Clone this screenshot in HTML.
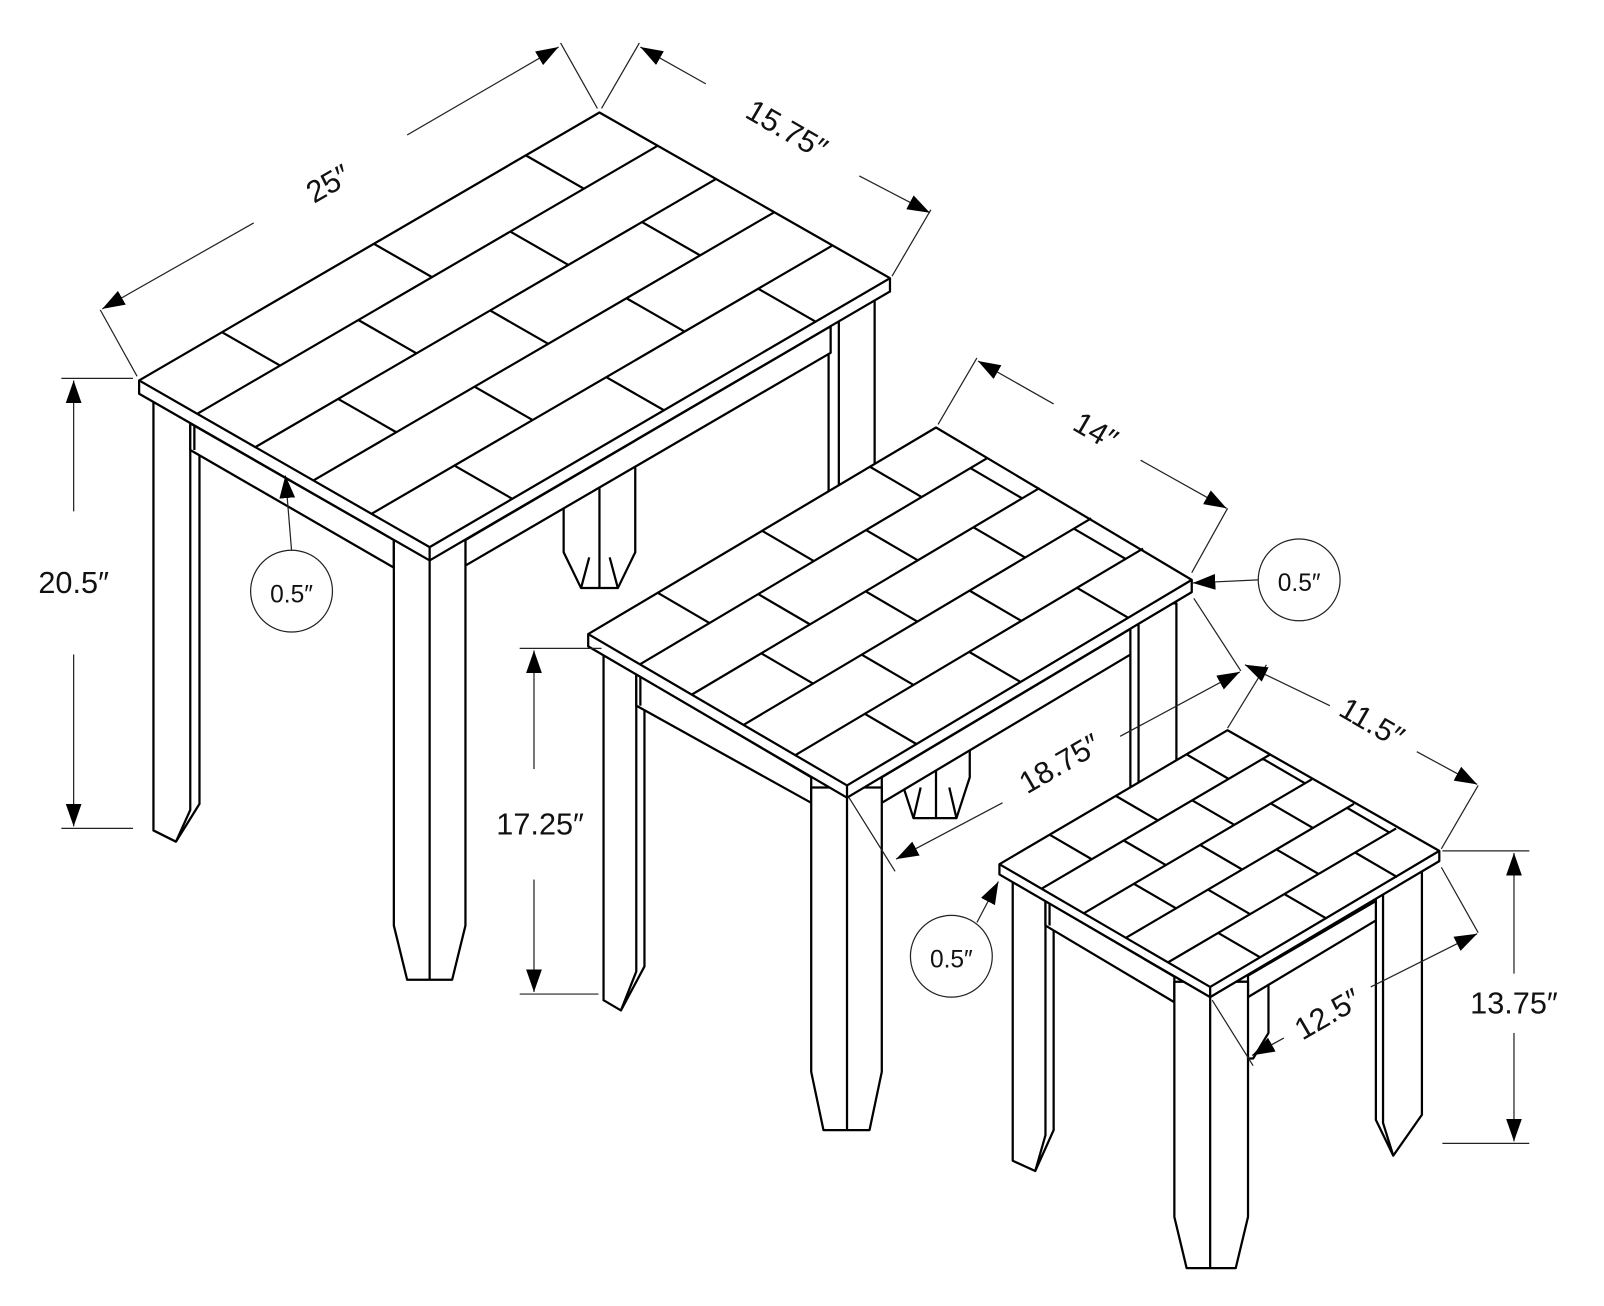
<!DOCTYPE html>
<html><head><meta charset="utf-8"><style>
html,body{margin:0;padding:0;background:#fff;}
svg{display:block;}
text{font-family:"Liberation Sans",sans-serif;font-size:30px;fill:#111;}
</style></head><body>
<svg width="1604" height="1306" viewBox="0 0 1568 1277" preserveAspectRatio="none" xmlns="http://www.w3.org/2000/svg">
<defs>
<marker id="ar" viewBox="0 0 10 10" refX="10" refY="5" markerWidth="22" markerHeight="22" markerUnits="userSpaceOnUse" orient="auto"><path d="M0,1.5 L10,5 L0,8.5 Z" fill="#000"/></marker>
</defs>
<g stroke="#000" stroke-width="2.2" stroke-linejoin="round" fill="#fff">
<!-- BIG TABLE -->
<path d="M551 440 V540 L568 575 H604 L621 540 V440 Z"/><path d="M568 575 L576 545 M586 440 V575 M604 575 L596 545" fill="none"/>
<path d="M810 290 V600 H855 V290 Z"/><path d="M820 300 V600" fill="none"/>
<path d="M150 385 V812 L172 823 L195 786 V400 Z"/><path d="M186 415 V792 L172 823" fill="none"/>
<polygon points="186,414 385,528 385,555 186,440"/><path d="M190 416 V440" fill="none"/>
<polygon points="455,528 812,319 812,345 455,553"/>
<path d="M385 520 V905 L398 958 H442 L455 905 V520 Z"/><path d="M420 540 V958" fill="none"/>
<polygon points="136,372 586,110 870,272 870,285 420,548 136,385"/>
<path d="M136 372 L420 535 L870 272 M420 535 V548" fill="none"/>
<g transform="matrix(450,-262,284,163,136,372)" fill="none" stroke-width="2.2">
<path vector-effect="non-scaling-stroke" d="M0 .2H1M0 .4H1M0 .6H1M0 .8H1 M.18 0V.2M.51 0V.2M.84 0V.2 M.35 .2V.4M.68 .2V.4 M.18 .4V.6M.51 .4V.6M.84 .4V.6 M.35 .6V.8M.68 .6V.8 M.18 .8V1M.51 .8V1M.84 .8V1"/>
</g>
<!-- MEDIUM TABLE -->
<path d="M880 700 V760 L893 800 H935 L948 760 V700 Z"/><path d="M893 800 L900 770 M915 700 V800 M935 800 L928 770" fill="none"/>
<path d="M1105 590 V880 H1150 V590 Z"/><path d="M1113 600 V880" fill="none"/>
<path d="M590 630 V978 L607 988 L630 945 V645 Z"/><path d="M622 655 V950 L607 988" fill="none"/>
<polygon points="622,659 793,760 793,785 622,690"/><path d="M626 661 V690" fill="none"/>
<polygon points="862,760 1105,615 1105,640 862,785"/>
<path d="M793 770 V1048 L805 1105 H850 L862 1048 V770 Z"/><path d="M828 780 V1105" fill="none"/>
<polygon points="575,620 915,418 1165,567 1165,579 828,780 575,632"/>
<path d="M575 620 L828 768 L1165 567 M828 768 V780" fill="none"/>
<g transform="matrix(340,-202,253,148,575,620)" fill="none">
<path vector-effect="non-scaling-stroke" d="M0 .2H1M0 .4H1M0 .6H1M0 .8H1 M.2 0V.2M.5 0V.2M.81 0V.2 M.34 .2V.4M.65 .2V.4M.95 .2V.4 M.2 .4V.6M.5 .4V.6M.81 .4V.6 M.34 .6V.8M.65 .6V.8M.95 .6V.8 M.2 .8V1M.5 .8V1M.81 .8V1"/>
</g>
<!-- SMALL TABLE -->
<path d="M1165 960 V1010 L1180 1035 H1225 L1240 1010 V960 Z"/><path d="M1200 960 V1035" fill="none"/>
<path d="M1345 850 V1095 L1362 1130 L1390 1090 V850 Z"/><path d="M1352 860 V1098 L1362 1130" fill="none"/>
<path d="M990 855 V1135 L1012 1145 L1030 1105 V868 Z"/><path d="M1022 880 V1110 L1012 1145" fill="none"/>
<polygon points="1022,881 1148,955 1148,980 1022,905"/><path d="M1026 883 V905" fill="none"/>
<polygon points="1220,954 1345,881 1345,900 1220,975"/>
<path d="M1148 960 V1190 L1160 1240 H1208 L1220 1190 V960 Z"/><path d="M1183 975 V1240" fill="none"/>
<polygon points="977,845 1200,714 1407,832 1407,842 1183,975 977,855"/>
<path d="M977 845 L1183 965 L1407 832 M1183 965 V975" fill="none"/>
<g transform="matrix(223,-131,206,120,977,845)" fill="none">
<path vector-effect="non-scaling-stroke" d="M0 .2H1M0 .4H1M0 .6H1M0 .8H1 M.22 0V.2M.51 0V.2M.82 0V.2 M.36 .2V.4M.66 .2V.4M.97 .2V.4 M.22 .4V.6M.51 .4V.6M.82 .4V.6 M.36 .6V.8M.66 .6V.8M.97 .6V.8 M.22 .8V1M.51 .8V1M.82 .8V1"/>
</g>
</g>
<!-- DIMENSIONS -->
<g stroke="#222" stroke-width="1.2" fill="none">
<path d="M134 368 L98 303 M584 106 L548 42"/>
<path d="M248 218 L100 302" marker-end="url(#ar)"/><path d="M398 132 L546 46" marker-end="url(#ar)"/>
<path d="M588 106 L625 42 M872 270 L910 205"/>
<path d="M690 82 L626 46" marker-end="url(#ar)"/><path d="M840 172 L909 208" marker-end="url(#ar)"/>
<path d="M60 370 H130 M60 810 H130"/>
<path d="M72 500 V372" marker-end="url(#ar)"/><path d="M72 640 V808" marker-end="url(#ar)"/>
<circle cx="285" cy="578" r="40"/><path d="M285 538 L279 465" marker-end="url(#ar)"/>
<path d="M917 415 L955 350 M1165 560 L1200 497"/>
<path d="M1030 395 L956 353" marker-end="url(#ar)"/><path d="M1115 450 L1199 497" marker-end="url(#ar)"/>
<circle cx="1270" cy="567" r="40"/><path d="M1230 567 L1166 570" marker-end="url(#ar)"/>
<path d="M508 634 H588 M508 972 H585"/>
<path d="M522 752 V636" marker-end="url(#ar)"/><path d="M522 860 V970" marker-end="url(#ar)"/>
<path d="M1167 585 L1213 656 M830 780 L875 852"/>
<path d="M1095 720 L1212 657" marker-end="url(#ar)"/><path d="M980 785 L876 840" marker-end="url(#ar)"/>
<path d="M1200 712 L1238 650 M1409 830 L1445 768"/>
<path d="M1300 690 L1217 650" marker-end="url(#ar)"/><path d="M1385 735 L1444 767" marker-end="url(#ar)"/>
<circle cx="930" cy="935" r="40"/><path d="M955 902 L976 862" marker-end="url(#ar)"/>
<path d="M1410 832 H1495 M1410 1118 H1495"/>
<path d="M1480 952 V834" marker-end="url(#ar)"/><path d="M1480 1010 V1116" marker-end="url(#ar)"/>
<path d="M1409 848 L1445 912 M1185 978 L1225 1042"/>
<path d="M1340 965 L1444 913" marker-end="url(#ar)"/><path d="M1255 1015 L1224 1032" marker-end="url(#ar)"/>
</g>
<text x="320" y="190" text-anchor="middle" transform="rotate(-30 320 178)">25″</text>
<text x="770" y="137" text-anchor="middle" transform="rotate(30 770 125)">15.75″</text>
<text x="72" y="580" text-anchor="middle">20.5″</text>
<text x="285" y="589" text-anchor="middle" style="font-size:24px">0.5″</text>
<text x="1072" y="432" text-anchor="middle" transform="rotate(30 1072 420)">14″</text>
<text x="1270" y="578" text-anchor="middle" style="font-size:24px">0.5″</text>
<text x="528" y="816" text-anchor="middle">17.25″</text>
<text x="1035" y="757" text-anchor="middle" transform="rotate(-30 1035 745)">18.75″</text>
<text x="1342" y="717" text-anchor="middle" transform="rotate(30 1342 705)">11.5″</text>
<text x="930" y="946" text-anchor="middle" style="font-size:24px">0.5″</text>
<text x="1480" y="991" text-anchor="middle">13.75″</text>
<text x="1297" y="1002" text-anchor="middle" transform="rotate(-30 1297 990)">12.5″</text>
</svg>
</body></html>
